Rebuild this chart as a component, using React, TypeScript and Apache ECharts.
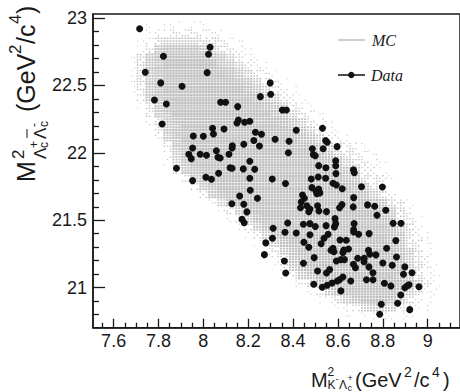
import React, { useEffect, useRef } from "react";
import * as echarts from "echarts";

// ---- axis ticks ----
const xMajorTicks = [7.6, 7.8, 8, 8.2, 8.4, 8.6, 8.8, 9];
const xMinorTicks = [7.55, 7.65, 7.7, 7.75, 7.85, 7.9, 7.95, 8.05, 8.1, 8.15, 8.25, 8.3, 8.35, 8.45, 8.5, 8.55, 8.65, 8.7, 8.75, 8.85, 8.9, 8.95, 9.05, 9.1];
const yMajorTicks = [21, 21.5, 22, 22.5, 23];
const yMinorTicks = [20.8, 20.9, 21.1, 21.2, 21.3, 21.4, 21.6, 21.7, 21.8, 21.9, 22.1, 22.2, 22.3, 22.4, 22.6, 22.7, 22.8, 22.9];

// ---- MC 2D histogram (box style) ----
// bins: x from 7.50 step 0.04, rows from y=23.04 downward step 0.06
const mcXStart = 7.5;
const mcXBin = 0.04;
const mcYTop = 23.04;
const mcYBin = 0.06;
// each row: [first column index, occupancy digits 0-9]
const mcRows: [number, string][] = [
  [0, ""],
  [6, "1011011"],
  [6, "122333221"],
  [5, "124555544321"],
  [5, "1378888754321"],
  [4, "147899999875321"],
  [4, "1478999999875321"],
  [4, "14789999999875321"],
  [4, "147899999999875321"],
  [4, "1378999999999875321"],
  [5, "3789999999999875321"],
  [5, "14789999999999875321"],
  [6, "37899999999999875321"],
  [6, "147899999999999875321"],
  [7, "378999999999999875321"],
  [7, "2689999999999999875321"],
  [8, "37899999999999998754321"],
  [8, "268999999999999998754321"],
  [8, "1589999999999999998754321"],
  [9, "378999999999999999875321"],
  [10, "378999999999999999874331"],
  [11, "37899999999999999987420"],
  [12, "37899999999999999986420"],
  [13, "25899999999999999987431"],
  [14, "1368999999999999998742"],
  [15, "1368999999999999987431"],
  [16, "136899999999999998642"],
  [17, "136899999999999987421"],
  [18, "13689999999999987431"],
  [19, "1368999999999998631"],
  [19, "1247899999999998642"],
  [20, "1368999999999986421"],
  [21, "136899999999986421"],
  [22, "12478999999998631"],
  [24, "136899999986421"],
  [25, "1246899986421"],
  [27, "12356653211"],
  [28, "10112111"],
  [0, ""],
];

// ---- Data points [M2(K- Lc+), M2(Lc+ Lcbar-)] ----
const dataPoints: [number, number][] = [
  [7.716, 22.921], [8.030, 22.783], [8.023, 22.731], [7.822, 22.717], [7.741, 22.598],
  [8.017, 22.595], [7.810, 22.519], [7.905, 22.494], [7.782, 22.392], [7.835, 22.363],
  [7.816, 22.214], [8.041, 22.182], [7.955, 22.125], [8.000, 22.123], [7.952, 22.036],
  [7.935, 21.990], [7.986, 21.990], [8.014, 21.982], [7.946, 21.957], [7.880, 21.886],
  [8.298, 22.519], [8.300, 22.435], [8.254, 22.417], [8.077, 22.375], [8.099, 22.375],
  [8.153, 22.343], [8.352, 22.318], [8.370, 22.318], [8.156, 22.244], [8.150, 22.222],
  [8.184, 22.227], [8.207, 22.234], [8.045, 22.140], [8.092, 22.177], [8.414, 22.168],
  [8.531, 22.182], [8.232, 22.153], [8.259, 22.138], [8.225, 22.091], [8.320, 22.101],
  [8.382, 22.086], [8.545, 22.091], [8.552, 22.079], [8.180, 22.064], [8.129, 22.053],
  [8.128, 22.036], [8.250, 22.051], [8.058, 22.016], [8.114, 21.990], [8.065, 21.967],
  [8.075, 21.962], [8.207, 21.938], [8.379, 22.001], [8.486, 22.031], [8.534, 22.031],
  [8.490, 21.987], [8.499, 21.979], [8.514, 21.905], [8.546, 21.890], [8.119, 21.890],
  [8.128, 21.886], [8.178, 21.881], [8.229, 21.878], [8.596, 22.046], [8.590, 21.942],
  [8.590, 21.905], [8.669, 21.875], [8.011, 21.819], [7.952, 21.794], [8.036, 21.804],
  [8.068, 21.849], [8.207, 21.812], [8.307, 21.806], [8.366, 21.772], [8.481, 21.806],
  [8.512, 21.821], [8.545, 21.812], [8.484, 21.742], [8.209, 21.723], [8.162, 21.680],
  [8.241, 21.663], [8.442, 21.688], [8.450, 21.663], [8.502, 21.717], [8.514, 21.732],
  [8.519, 21.703], [8.506, 21.697], [8.436, 21.636], [8.127, 21.623], [8.180, 21.619],
  [8.433, 21.593], [8.461, 21.608], [8.475, 21.584], [8.470, 21.564], [8.509, 21.608],
  [8.515, 21.569], [8.549, 21.564], [8.194, 21.562], [8.172, 21.507], [8.182, 21.482],
  [8.376, 21.480], [8.446, 21.470], [8.475, 21.475], [8.499, 21.453], [8.547, 21.460],
  [8.311, 21.441], [8.364, 21.411], [8.414, 21.406], [8.475, 21.393], [8.556, 21.396],
  [8.308, 21.366], [8.538, 21.366], [8.278, 21.332], [8.448, 21.337], [8.470, 21.300],
  [8.525, 21.326], [8.272, 21.245], [8.494, 21.223], [8.361, 21.198], [8.446, 21.181],
  [8.509, 21.124], [8.367, 21.109], [8.549, 21.109], [8.492, 21.025], [8.530, 21.003],
  [8.552, 21.018], [8.591, 21.846], [8.673, 21.853], [8.578, 21.774], [8.593, 21.762],
  [8.619, 21.734], [8.705, 21.749], [8.798, 21.747], [8.670, 21.668], [8.618, 21.616],
  [8.607, 21.593], [8.668, 21.599], [8.732, 21.614], [8.764, 21.604], [8.813, 21.574],
  [8.774, 21.537], [8.587, 21.512], [8.590, 21.475], [8.584, 21.450], [8.672, 21.475],
  [8.670, 21.430], [8.670, 21.413], [8.692, 21.396], [8.739, 21.401], [8.846, 21.478],
  [8.881, 21.478], [8.609, 21.354], [8.637, 21.352], [8.858, 21.349], [8.578, 21.292],
  [8.569, 21.277], [8.582, 21.267], [8.626, 21.280], [8.622, 21.260], [8.647, 21.287],
  [8.736, 21.277], [8.742, 21.248], [8.769, 21.243], [8.817, 21.292], [8.688, 21.218],
  [8.717, 21.218], [8.716, 21.193], [8.861, 21.228], [8.593, 21.198], [8.613, 21.208],
  [8.629, 21.208], [8.800, 21.183], [8.669, 21.174], [8.678, 21.148], [8.738, 21.154],
  [8.842, 21.166], [8.898, 21.154], [8.563, 21.134], [8.756, 21.111], [8.892, 21.099],
  [8.930, 21.111], [8.622, 21.079], [8.607, 21.059], [8.597, 21.050], [8.574, 21.035],
  [8.657, 21.050], [8.727, 21.059], [8.756, 21.059], [8.807, 21.033], [8.836, 21.013],
  [8.898, 21.000], [8.908, 21.013], [8.917, 21.022], [8.961, 21.007], [8.613, 20.976],
  [8.880, 20.946], [8.793, 20.877], [8.866, 20.884], [8.920, 20.837], [8.786, 20.803],
];

const SANS = "'Liberation Sans', Arial, sans-serif";
const SERIF = "'Liberation Serif', 'Times New Roman', serif";
const INK = "#1a1a1a";
const MC_GRAY = "#bfbfbf";

// box size fraction & number of sub-boxes drawn for each occupancy level
const boxFrac = [0, 0.36, 0.42, 0.48, 0.53, 0.6, 0.67, 0.74, 0.8, 0.86];
const boxCount = [0, 2, 3, 5, 7, 9, 9, 9, 9, 9];
const subOrder = [4, 0, 8, 2, 6, 1, 7, 3, 5];

function txt(text: string, x: number, y: number, size: number, extra: any = {}) {
  return {
    type: "text",
    x,
    y,
    silent: true,
    style: {
      text,
      fontSize: size,
      fontFamily: SANS,
      fill: INK,
      align: "left",
      verticalAlign: "middle",
      ...extra,
    },
  };
}

export default function App() {
  const ref = useRef<HTMLDivElement>(null);

  useEffect(() => {
    if (!ref.current) return;
    const chart = echarts.init(ref.current, undefined, { renderer: "svg" });

    const mcData: number[][] = [];
    mcRows.forEach(([start, digits], r) => {
      for (let k = 0; k < digits.length; k++) {
        const v = Number(digits[k]);
        if (v > 0) mcData.push([mcXStart + (start + k) * mcXBin, mcYTop - r * mcYBin, v, start + k, r]);
      }
    });

    const xMin = 7.508;
    const xMax = 9.144;
    const yMin = 20.703;
    const yMax = 23.03;

    const axisLineStyle = { color: INK, width: 1.5 };
    const tickStyle = { color: INK, width: 1.3 };

    const option: any = {
      animation: false,
      backgroundColor: "#ffffff",
      grid: {
        left: 93,
        top: 14,
        width: 372,
        height: 313.7,
        show: true,
        borderColor: INK,
        borderWidth: 1.5,
        backgroundColor: "transparent",
      },
      xAxis: [
        {
          type: "value",
          min: xMin,
          max: xMax,
          position: "bottom",
          axisLine: { show: true, onZero: false, lineStyle: axisLineStyle },
          axisTick: { show: true, inside: true, length: 9, customValues: xMajorTicks, lineStyle: tickStyle },
          axisLabel: { show: true, customValues: xMajorTicks, margin: 4, fontSize: 18, fontFamily: SANS, color: INK },
          splitLine: { show: false },
        },
        {
          type: "value",
          min: xMin,
          max: xMax,
          position: "bottom",
          axisLine: { show: false },
          axisTick: { show: true, inside: true, length: 5, customValues: xMinorTicks, lineStyle: tickStyle },
          axisLabel: { show: false },
          splitLine: { show: false },
        },
      ],
      yAxis: [
        {
          type: "value",
          min: yMin,
          max: yMax,
          position: "left",
          axisLine: { show: true, onZero: false, lineStyle: axisLineStyle },
          axisTick: { show: true, inside: true, length: 12, customValues: yMajorTicks, lineStyle: tickStyle },
          axisLabel: { show: true, customValues: yMajorTicks, margin: 6, fontSize: 18, fontFamily: SANS, color: INK },
          splitLine: { show: false },
        },
        {
          type: "value",
          min: yMin,
          max: yMax,
          position: "left",
          axisLine: { show: false },
          axisTick: { show: true, inside: true, length: 6, customValues: yMinorTicks, lineStyle: tickStyle },
          axisLabel: { show: false },
          splitLine: { show: false },
        },
      ],
      series: [
        {
          type: "custom",
          name: "MC",
          xAxisIndex: 0,
          yAxisIndex: 0,
          silent: true,
          clip: true,
          encode: { x: 0, y: 1 },
          data: mcData,
          renderItem: (params: any, api: any) => {
            const x = api.value(0);
            const y = api.value(1);
            const v = api.value(2);
            const col = api.value(3);
            const row = api.value(4);
            const p0 = api.coord([x, y]);
            const p1 = api.coord([x + mcXBin, y - mcYBin]);
            const cw = (p1[0] - p0[0]) / 3;
            const ch = (p1[1] - p0[1]) / 3;
            const f = boxFrac[v];
            const n = boxCount[v];
            const shift = (col * 5 + row * 3) % 9;
            const children: any[] = [];
            for (let i = 0; i < n; i++) {
              const k = subOrder[(i + shift) % 9];
              const ix = k % 3;
              const iy = Math.floor(k / 3);
              const w = cw * f;
              const h = ch * f;
              children.push({
                type: "rect",
                shape: { x: p0[0] + ix * cw + (cw - w) / 2, y: p0[1] + iy * ch + (ch - h) / 2, width: w, height: h },
                style: { fill: MC_GRAY },
              });
            }
            return { type: "group", children };
          },
          z: 1,
        },
        {
          type: "scatter",
          name: "Data",
          xAxisIndex: 0,
          yAxisIndex: 0,
          data: dataPoints,
          symbol: "circle",
          symbolSize: 7,
          itemStyle: { color: "#111111", opacity: 1 },
          z: 3,
        },
      ],
      graphic: [
        // legend
        { type: "line", silent: true, shape: { x1: 338, y1: 40, x2: 365, y2: 40 }, style: { stroke: MC_GRAY, lineWidth: 1.5 } },
        txt("MC", 372, 40, 16, { fontFamily: SERIF, fontStyle: "italic" }),
        { type: "line", silent: true, shape: { x1: 338, y1: 75, x2: 365, y2: 75 }, style: { stroke: "#111", lineWidth: 1.5 } },
        { type: "circle", silent: true, shape: { cx: 351.3, cy: 75, r: 3.2 }, style: { fill: "#111" } },
        txt("Data", 371, 75, 16, { fontFamily: SERIF, fontStyle: "italic" }),
        // x axis title
        txt("M", 311, 380, 20),
        txt("2", 327.5, 371.5, 12),
        txt("K", 327.5, 385, 12),
        txt("-", 335.5, 378.5, 9),
        txt("Λ", 339, 385, 12),
        txt("+", 347.5, 378, 9),
        txt("c", 347.5, 387.5, 9),
        txt("(GeV", 355, 380, 20),
        txt("2", 404, 372, 14),
        txt("/c", 414, 380, 20),
        txt("4", 432, 372, 14),
        txt(")", 443, 380, 20),
        // y axis title (rotated)
        {
          type: "group",
          x: 33,
          y: 182,
          rotation: Math.PI / 2,
          silent: true,
          children: [
            txt("M", 0, -7.5, 25),
            txt("2", 23, -15, 17),
            txt("Λ", 23, 7, 17),
            txt("+", 34, 1, 12),
            txt("c", 34, 11.4, 12),
            txt("Λ", 43, 7, 17),
            { type: "line", shape: { x1: 44, y1: -6, x2: 53, y2: -6 }, style: { stroke: INK, lineWidth: 1 } },
            txt("-", 55, 1, 12),
            txt("c", 55, 11.4, 12),
            txt("(GeV", 70, -7.5, 25),
            txt("2", 128, -18, 17),
            txt("/c", 138, -7.5, 25),
            txt("4", 158, -18, 17),
            txt(")", 168, -7.5, 25),
          ],
        },
      ],
    };

    chart.setOption(option);
    return () => chart.dispose();
  }, []);

  return (
    <div
      ref={ref}
      style={{ position: "fixed", left: 0, top: 0, width: 460, height: 392, background: "#fff" }}
    />
  );
}
